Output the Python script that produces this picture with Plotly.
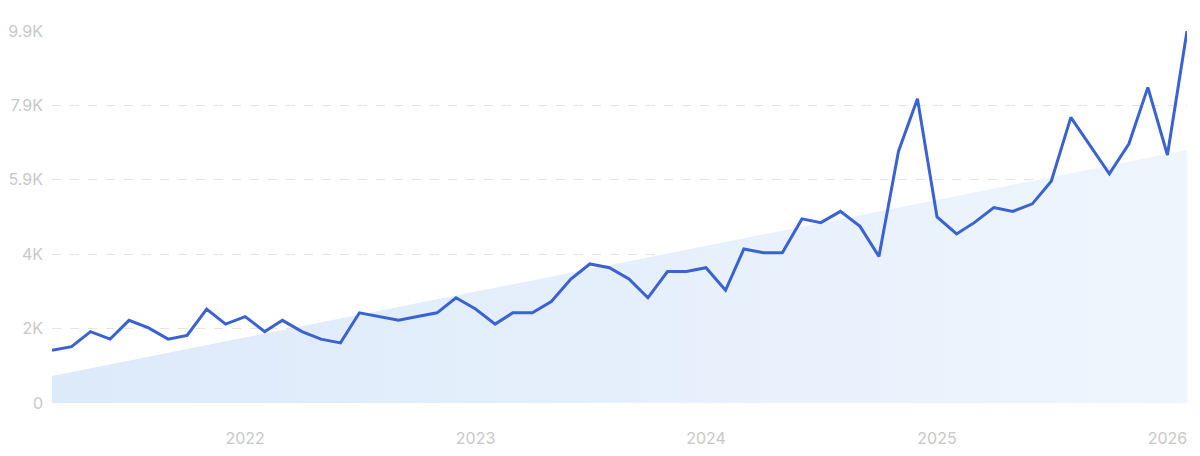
import plotly.graph_objects as go

dates = [f"{2021 + (m + 2) // 12}-{(m + 2) % 12 + 1:02d}-01" for m in range(60)]
values = [1400, 1500, 1900, 1700, 2200, 2000, 1700, 1800, 2500, 2100,
          2300, 1900, 2200, 1900, 1700, 1600, 2400, 2300, 2200, 2300,
          2400, 2800, 2500, 2100, 2400, 2400, 2700, 3300, 3700, 3600,
          3300, 2800, 3500, 3500, 3600, 3000, 4100, 4000, 4000, 4900,
          4800, 5100, 4700, 3900, 6700, 8100, 4950, 4500, 4800, 5200,
          5100, 5300, 5900, 7600, 6850, 6100, 6900, 8400, 6600, 9900]
trend_dates = [dates[0], dates[-1]]
trend_values = [720, 6730]
ytick_vals = [0, 1980, 3960, 5940, 7920, 9900]
ytick_text = ["0", "2K", "4K", "5.9K", "7.9K", "9.9K"]
xtick_vals = ["2022-01-01", "2023-01-01", "2024-01-01", "2025-01-01", "2026-01-01"]
xtick_text = ["2022", "2023", "2024", "2025", "2026"]

fig = go.Figure()
fig.add_trace(go.Scatter(
    x=trend_dates, y=trend_values, mode="lines", line=dict(width=0),
    fill="tozeroy",
    fillgradient=dict(type="horizontal",
                      colorscale=[[0, "rgb(221,234,250)"], [1, "rgb(238,245,253)"]]),
    hoverinfo="skip", showlegend=False))
fig.add_trace(go.Scatter(
    x=dates, y=values, mode="lines",
    line=dict(color="#3a62d0", width=3),
    cliponaxis=False, showlegend=False))

fig.update_layout(
    width=1192, height=448,
    margin=dict(l=44, r=13, t=23, b=53),
    paper_bgcolor="white", plot_bgcolor="white",
    font=dict(family="Inter, sans-serif", size=16, color="#c8c8c8"),
    xaxis=dict(range=[dates[0], dates[-1]], tickvals=xtick_vals, ticktext=xtick_text,
               showgrid=False, zeroline=False, showline=False, ticks="",
               ticklabelstandoff=24, automargin=False),
    yaxis=dict(range=[0, 9900], tickvals=ytick_vals, ticktext=ytick_text,
               showgrid=True, gridcolor="#e4e4e4", griddash="dash", gridwidth=1,
               zeroline=False, showline=False, ticks="", ticklabelstandoff=8,
               automargin=False),
)
fig.write_html("out.html")
